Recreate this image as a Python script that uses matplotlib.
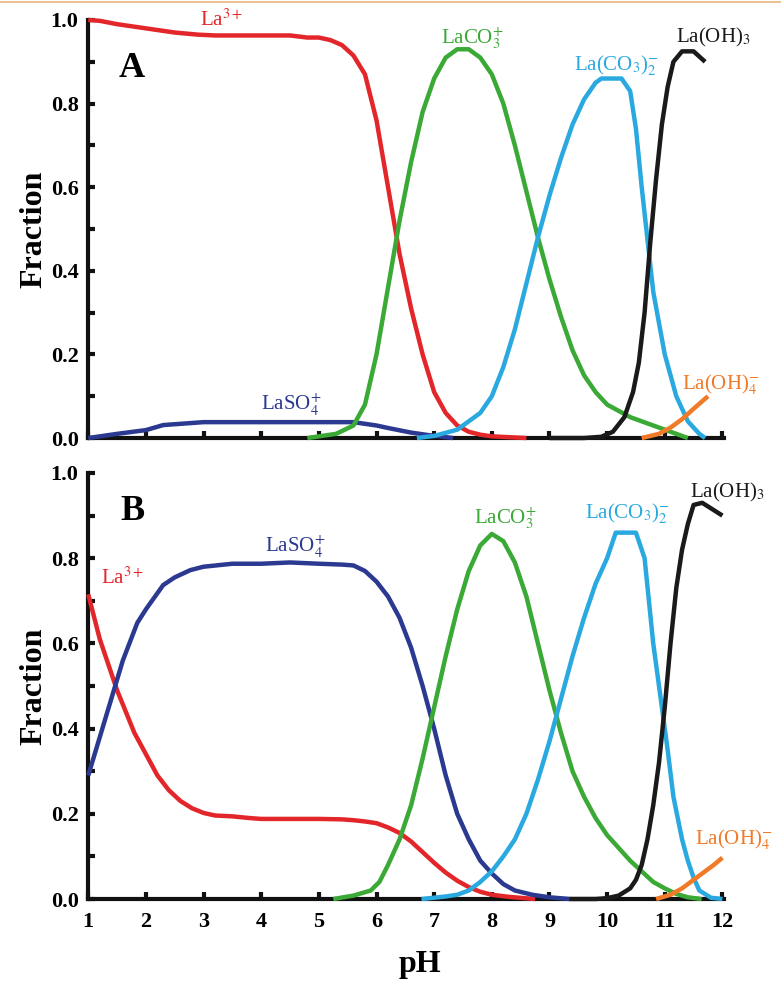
import matplotlib
matplotlib.use("Agg")
import matplotlib.pyplot as plt
from matplotlib.lines import Line2D
from matplotlib.ticker import MultipleLocator

plt.rcParams['font.family'] = ['Liberation Serif', 'DejaVu Serif']
plt.rcParams['mathtext.fontset'] = 'stix'

RED = '#e3262a'
GREEN = '#3aa935'
CYAN = '#2aa9e0'
NAVY = '#2b3990'
BLACK = '#1a1a1a'
ORANGE = '#f07a27'

# ---- panel A (no sulfate) ----
a_la_ph = [1.0, 1.2, 1.5, 2.0, 2.5, 2.9, 3.2, 4.0, 4.5, 4.8, 5.0, 5.2, 5.4, 5.6, 5.8, 6.0, 6.2, 6.4, 6.6, 6.8,
           7.0, 7.2, 7.4, 7.6, 7.8, 8.0, 8.6]
a_la = [1.0, 0.998, 0.99, 0.98, 0.97, 0.965, 0.963, 0.963, 0.963, 0.958, 0.958, 0.952, 0.94, 0.915, 0.87, 0.76,
        0.6, 0.44, 0.31, 0.2, 0.11, 0.06, 0.03, 0.015, 0.008, 0.004, 0.0]

a_so4_ph = [1.0, 1.5, 2.0, 2.3, 3.0, 4.0, 5.0, 5.6, 6.0, 6.2, 6.6, 6.9, 7.33]
a_so4 = [0.0, 0.01, 0.019, 0.031, 0.038, 0.038, 0.038, 0.038, 0.03, 0.024, 0.013, 0.007, 0.0]

a_co3_ph = [4.8, 5.3, 5.6, 5.8, 6.0, 6.2, 6.4, 6.6, 6.8, 7.0, 7.2, 7.4, 7.6, 7.8, 8.0, 8.2, 8.4, 8.6, 8.8,
            9.0, 9.2, 9.4, 9.6, 9.8, 10.0, 10.4, 10.8, 11.0, 11.4]
a_co3 = [0.0, 0.01, 0.03, 0.08, 0.2, 0.36, 0.52, 0.66, 0.78, 0.86, 0.91, 0.93, 0.93, 0.91, 0.87, 0.8, 0.7,
         0.59, 0.48, 0.38, 0.29, 0.21, 0.15, 0.11, 0.08, 0.05, 0.03, 0.02, 0.0]

a_co32_ph = [6.7, 7.0, 7.4, 7.8, 8.0, 8.2, 8.4, 8.6, 8.8, 9.0, 9.2, 9.4, 9.6, 9.8, 9.9, 10.25, 10.4, 10.5,
             10.6, 10.8, 11.0, 11.1, 11.2, 11.4, 11.6, 11.7]
a_co32 = [0.0, 0.005, 0.02, 0.06, 0.1, 0.17, 0.26, 0.37, 0.48, 0.58, 0.67, 0.75, 0.81, 0.85, 0.86, 0.86, 0.83,
          0.74, 0.6, 0.35, 0.2, 0.15, 0.1, 0.04, 0.01, 0.0]

a_oh3_ph = [9.0, 9.6, 9.9, 10.1, 10.3, 10.45, 10.55, 10.65, 10.75, 10.85, 10.95, 11.05, 11.15, 11.3, 11.5, 11.7]
a_oh3 = [0.0, 0.0, 0.003, 0.015, 0.05, 0.11, 0.18, 0.3, 0.47, 0.62, 0.75, 0.84, 0.9, 0.925, 0.925, 0.9]

a_oh4_ph = [10.6, 10.9, 11.1, 11.3, 11.5, 11.75]
a_oh4 = [0.0, 0.01, 0.025, 0.045, 0.07, 0.1]

# ---- panel B (with sulfate) ----
b_la_ph = [1.0, 1.2, 1.5, 1.8, 2.0, 2.2, 2.4, 2.6, 2.8, 3.0, 3.2, 3.5, 3.8, 4.0, 5.0, 5.4, 5.6, 5.8, 6.0,
           6.2, 6.4, 6.6, 6.8, 7.0, 7.2, 7.4, 7.6, 7.8, 8.0, 8.3, 8.75]
b_la = [0.715, 0.61, 0.49, 0.39, 0.34, 0.29, 0.255, 0.23, 0.213, 0.202, 0.196, 0.194, 0.19, 0.188, 0.188,
        0.187, 0.185, 0.182, 0.178, 0.168, 0.155, 0.135, 0.11, 0.085, 0.062, 0.043, 0.028, 0.017, 0.01,
        0.005, 0.0]

b_so4_ph = [1.0, 1.2, 1.4, 1.6, 1.85, 2.0, 2.3, 2.5, 2.77, 3.0, 3.5, 4.0, 4.5, 5.0, 5.4, 5.6, 5.8, 6.0,
            6.2, 6.4, 6.6, 6.8, 7.0, 7.2, 7.4, 7.6, 7.8, 8.0, 8.2, 8.4, 8.7, 9.0, 9.35]
b_so4 = [0.29, 0.38, 0.47, 0.56, 0.648, 0.68, 0.737, 0.755, 0.772, 0.78, 0.787, 0.787, 0.79, 0.787, 0.785,
         0.783, 0.77, 0.745, 0.71, 0.66, 0.59, 0.5, 0.4, 0.29, 0.2, 0.14, 0.09, 0.06, 0.035, 0.02, 0.01,
         0.004, 0.0]

b_co3_ph = [5.25, 5.6, 5.9, 6.05, 6.2, 6.4, 6.6, 6.8, 7.0, 7.2, 7.4, 7.6, 7.8, 8.0, 8.2, 8.4, 8.6, 8.8, 9.0,
            9.2, 9.4, 9.6, 9.8, 10.0, 10.2, 10.4, 10.6, 10.8, 11.0, 11.2, 11.4, 11.64]
b_co3 = [0.0, 0.008, 0.02, 0.04, 0.08, 0.14, 0.22, 0.33, 0.45, 0.57, 0.68, 0.77, 0.83, 0.857, 0.84, 0.79,
         0.71, 0.6, 0.49, 0.39, 0.3, 0.24, 0.19, 0.15, 0.12, 0.09, 0.065, 0.04, 0.025, 0.012, 0.004, 0.0]

b_co32_ph = [6.78, 7.0, 7.2, 7.4, 7.6, 7.8, 8.0, 8.2, 8.4, 8.6, 8.8, 9.0, 9.2, 9.4, 9.6, 9.8, 10.0, 10.15,
             10.5, 10.65, 10.8, 10.95, 11.05, 11.15, 11.3, 11.4, 11.5, 11.6, 11.8, 12.0]
b_co32 = [0.0, 0.003, 0.006, 0.01, 0.02, 0.04, 0.065, 0.1, 0.14, 0.2, 0.28, 0.37, 0.47, 0.57, 0.66, 0.74,
          0.8, 0.86, 0.86, 0.8, 0.6, 0.45, 0.35, 0.24, 0.14, 0.09, 0.05, 0.02, 0.003, 0.0]

b_oh3_ph = [9.35, 9.8, 10.0, 10.2, 10.4, 10.5, 10.6, 10.7, 10.8, 10.9, 11.0, 11.1, 11.2, 11.3, 11.4, 11.5,
            11.65, 12.0]
b_oh3 = [0.0, 0.0, 0.002, 0.008, 0.025, 0.045, 0.08, 0.14, 0.22, 0.32, 0.45, 0.6, 0.73, 0.82, 0.88, 0.925,
         0.93, 0.9]

b_oh4_ph = [10.85, 11.1, 11.3, 11.5, 11.7, 11.85, 12.0]
b_oh4 = [0.0, 0.01, 0.025, 0.045, 0.065, 0.08, 0.097]

panels = {
  'A': [(a_la_ph, a_la, RED), (a_so4_ph, a_so4, NAVY), (a_co3_ph, a_co3, GREEN),
        (a_co32_ph, a_co32, CYAN), (a_oh3_ph, a_oh3, BLACK), (a_oh4_ph, a_oh4, ORANGE)],
  'B': [(b_la_ph, b_la, RED), (b_so4_ph, b_so4, NAVY), (b_co3_ph, b_co3, GREEN),
        (b_co32_ph, b_co32, CYAN), (b_oh3_ph, b_oh3, BLACK), (b_oh4_ph, b_oh4, ORANGE)],
}

# species labels: (text, pH, fraction, colour)
labels = {
  'A': [(r'La$^{3+}$', 3.32, 1.0, RED), (r'LaSO$_4^{+}$', 4.52, 0.079, NAVY),
        (r'LaCO$_3^{+}$', 7.67, 0.957, GREEN), (r'La(CO$_3$)$_2^{-}$', 10.17, 0.89, CYAN),
        (r'La(OH)$_3$', 11.85, 0.957, BLACK), (r'La(OH)$_4^{-}$', 11.97, 0.127, ORANGE)],
  'B': [(r'La$^{3+}$', 1.6, 0.754, RED), (r'LaSO$_4^{+}$', 4.59, 0.826, NAVY),
        (r'LaCO$_3^{+}$', 8.23, 0.894, GREEN), (r'La(CO$_3$)$_2^{-}$', 10.35, 0.905, CYAN),
        (r'La(OH)$_3$', 12.09, 0.955, BLACK), (r'La(OH)$_4^{-}$', 12.2, 0.138, ORANGE)],
}

fig = plt.figure(figsize=(7.81, 9.85), dpi=100)
ax_a = fig.add_axes([0.113, 0.5553, 0.8142, 0.4244])
ax_b = fig.add_axes([0.113, 0.0873, 0.8142, 0.4325])

for name, ax in (('A', ax_a), ('B', ax_b)):
  for ph, frac, col in panels[name]:
    ax.plot(ph, frac, color=col, lw=3.2, clip_on=False, zorder=5, solid_capstyle='butt')
  for txt, x, y, col in labels[name]:
    ax.text(x, y, txt, color=col, fontsize=15, ha='center', va='center')
  ax.text(1.76, 0.885 if name == 'A' else 0.91, name, fontsize=26, fontweight='bold', ha='center', va='center')

  ax.set_xlim(1, 12.03)
  ax.set_ylim(0, 1)
  for s in ('top', 'right'):
    ax.spines[s].set_visible(False)
  for s in ('left', 'bottom'):
    ax.spines[s].set_linewidth(3.0)
    ax.spines[s].set_color('#111111')
  ax.xaxis.set_major_locator(MultipleLocator(1))
  ax.yaxis.set_major_locator(MultipleLocator(0.2))
  ax.yaxis.set_minor_locator(MultipleLocator(0.1))
  ax.tick_params(axis='both', which='both', direction='in', width=3, length=5, color='#111111')
  ax.tick_params(axis='y', labelsize=16, pad=7)
  ax.tick_params(axis='x', labelsize=16, pad=9)
  ax.set_yticks([0, 0.2, 0.4, 0.6, 0.8, 1.0])
  ax.set_yticklabels(['0.0', '0.2', '0.4', '0.6', '0.8', '1.0'], fontweight='bold')
  ax.set_ylabel('Fraction', fontsize=23, fontweight='bold')
  ax.yaxis.set_label_coords(-0.062, 0.5)

ax_a.tick_params(axis='x', labelbottom=False)
ax_b.set_xticks(range(1, 13))
ax_b.set_xticklabels([str(i) for i in range(1, 13)], fontweight='bold')
ax_b.set_xlabel('pH', fontsize=23, fontweight='bold')
ax_b.xaxis.set_label_coords(0.522, -0.12)

# thin page rule at the top
fig.add_artist(Line2D([0, 1], [0.998, 0.998], transform=fig.transFigure, color='#e8b67e', lw=1.2))

fig.savefig('out.png', dpi=100)
